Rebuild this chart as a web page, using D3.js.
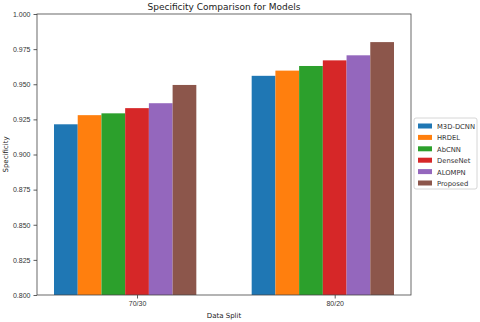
<!DOCTYPE html>
<html>
<head>
<meta charset="utf-8">
<script src="https://cdn.jsdelivr.net/npm/d3@7"></script>
<style>
  body { margin: 0; background: #fff; }
  svg { display: block; font-family: "DejaVu Sans", sans-serif; }
</style>
</head>
<body>
<svg id="chart" width="480" height="322"></svg>
<script>
// data
const splits = ['70/30', '80/20'];
const models = ['M3D-DCNN', 'HRDEL', 'AbCNN', 'DenseNet', 'ALOMPN', 'Proposed'];
const colors = ['#1f77b4', '#ff7f0e', '#2ca02c', '#d62728', '#9467bd', '#8c564b'];
const split7030 = [0.9215, 0.928, 0.9293, 0.933, 0.9365, 0.9495];
const split8020 = [0.956, 0.9597, 0.963, 0.967, 0.9706, 0.980];
const yTicks = [0.800, 0.825, 0.850, 0.875, 0.900, 0.925, 0.950, 0.975, 1.000];

const seriesValues = [split7030, split8020];

const svg = d3.select('#chart');
const margin = {left: 37, right: 69, top: 14, bottom: 27};
const width = 480 - margin.left - margin.right;
const height = 322 - margin.top - margin.bottom;
const barW = 0.12;

const x = d3.scaleLinear()
    .domain([-0.146, 1.746])
    .range([0, width]);

const y = d3.scaleLinear()
    .domain([0.8, 1.0])
    .range([height, 0]);

const g = svg.append('g')
    .attr('transform', `translate(${margin.left},${margin.top})`);

// bars
let barData = [];
seriesValues.forEach((vals, gi) => {
    vals.forEach((v, mi) => {
        barData.push({group: gi, model: mi, value: v});
    });
});

g.selectAll('rect.bar')
    .data(barData)
    .join('rect')
    .attr('class', 'bar')
    .attr('x', d => x(d.group + d.model * barW - barW / 2))
    .attr('width', d => x(barW) - x(0))
    .attr('y', d => y(d.value))
    .attr('height', d => y(0.8) - y(d.value))
    .attr('fill', d => colors[d.model]);

// axes
const yAxis = d3.axisLeft(y)
    .tickValues(yTicks)
    .tickFormat(d3.format('.3f'))
    .tickSize(3.5)
    .tickPadding(3);

const xAxis = d3.axisBottom(x)
    .tickValues(splits.map((s, i) => i + 3 * barW))
    .tickFormat((d, i) => splits[i])
    .tickSize(3.5)
    .tickPadding(3);

const yG = g.append('g').call(yAxis);
const xG = g.append('g').attr('transform', `translate(0,${height})`).call(xAxis);

[yG, xG].forEach(ax => {
    ax.select('.domain').remove();
    ax.selectAll('line').attr('stroke', '#333').attr('stroke-width', 0.8);
    ax.selectAll('text').attr('fill', '#333').style('font-size', '7px');
});

// frame
g.append('rect')
    .attr('x', 0).attr('y', 0)
    .attr('width', width).attr('height', height)
    .attr('fill', 'none')
    .attr('stroke', '#444')
    .attr('stroke-width', 0.8);

// title and labels
svg.append('text')
    .attr('x', margin.left + width / 2)
    .attr('y', 9.5)
    .attr('text-anchor', 'middle')
    .attr('fill', '#222')
    .style('font-size', '9px')
    .text('Specificity Comparison for Models');

svg.append('text')
    .attr('x', margin.left + width / 2)
    .attr('y', 318)
    .attr('text-anchor', 'middle')
    .attr('fill', '#222')
    .style('font-size', '7px')
    .text('Data Split');

svg.append('text')
    .attr('transform', `translate(8,${margin.top + height / 2}) rotate(-90)`)
    .attr('text-anchor', 'middle')
    .attr('fill', '#222')
    .style('font-size', '7px')
    .text('Specificity');

// legend
const legX = 414, legY = 118, rowH = 11.4;
const legend = svg.append('g').attr('transform', `translate(${legX},${legY})`);

legend.append('rect')
    .attr('width', 63)
    .attr('height', 71)
    .attr('rx', 2)
    .attr('fill', '#fff')
    .attr('stroke', '#ccc')
    .attr('stroke-width', 0.8);

const items = legend.selectAll('g.item')
    .data(models)
    .join('g')
    .attr('class', 'item')
    .attr('transform', (d, i) => `translate(4,${4 + i * rowH})`);

items.append('rect')
    .attr('width', 14)
    .attr('height', 5)
    .attr('y', 1.5)
    .attr('fill', (d, i) => colors[i]);

items.append('text')
    .attr('x', 19)
    .attr('y', 7)
    .attr('fill', '#333')
    .style('font-size', '6.8px')
    .text(d => d);
</script>
</body>
</html>
